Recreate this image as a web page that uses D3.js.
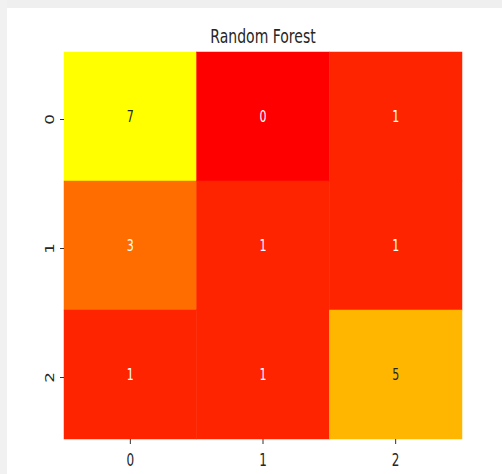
<!DOCTYPE html>
<html>
<head>
<meta charset="utf-8">
<script src="https://cdn.jsdelivr.net/npm/d3@7"></script>
<style>
  html, body { margin: 0; padding: 0; background: #fff; }
  text { font-family: "DejaVu Sans", sans-serif; }
</style>
</head>
<body>
<svg id="myGraph" width="502" height="474"></svg>
<script>
// data
var title = 'Random Forest';
var rowLabels = ['0', '1', '2'];
var colLabels = ['0', '1', '2'];
var matrix = [
  [7, 0, 1],
  [3, 1, 1],
  [1, 1, 5]
];

var svgWidth = 502;
var svgHeight = 474;
var plot = { left: 64, top: 52, right: 462, bottom: 439 };

var svg = d3.select('#myGraph');

// light gray frame at top / left
svg.append('rect').attr('x', 0).attr('y', 0).attr('width', svgWidth).attr('height', 8).attr('fill', '#efefef');
svg.append('rect').attr('x', 0).attr('y', 0).attr('width', 7).attr('height', svgHeight).attr('fill', '#f1f1f1');

var x = d3.scaleBand().domain(colLabels).range([plot.left, plot.right]);
var y = d3.scaleBand().domain(rowLabels).range([plot.top, plot.bottom]);

// autumn colormap
var color = d3.scaleLinear().domain([0, 7]).range(['#ff0000', '#ffff00']);

var cells = [];
matrix.forEach(function(row, i) {
  row.forEach(function(v, j) {
    cells.push({ r: rowLabels[i], c: colLabels[j], v: v });
  });
});

svg.selectAll('rect.cell')
  .data(cells)
  .enter()
  .append('rect')
  .attr('class', 'cell')
  .attr('x', function(d) { return x(d.c); })
  .attr('y', function(d) { return y(d.r); })
  .attr('width', x.bandwidth())
  .attr('height', y.bandwidth())
  .attr('fill', function(d) { return color(d.v); })
  .attr('stroke', function(d) { return color(d.v); })
  .attr('stroke-width', 0.5);

// text is stretched vertically in the reference
function stretched(sel, sx, sy) {
  return sel.attr('transform', function(d) {
    return 'translate(' + d.tx + ',' + d.ty + ') scale(' + sx + ',' + sy + ')';
  });
}

function isLight(v) {
  var c = d3.rgb(color(v));
  var lin = function(u) { u = u / 255; return u <= 0.03928 ? u / 12.92 : Math.pow((u + 0.055) / 1.055, 2.4); };
  return 0.2126 * lin(c.r) + 0.7152 * lin(c.g) + 0.0722 * lin(c.b) > 0.408;
}

// numbers in cells
stretched(svg.selectAll('text.num')
  .data(cells.map(function(d) {
    return { v: d.v, tx: x(d.c) + x.bandwidth() / 2, ty: y(d.r) + y.bandwidth() / 2 };
  }))
  .enter()
  .append('text')
  .attr('class', 'num')
  .attr('text-anchor', 'middle')
  .attr('dy', '0.35em')
  .attr('font-size', 11)
  .attr('fill', function(d) { return isLight(d.v) ? '#262626' : '#ffffff'; })
  .text(function(d) { return d.v; }), 1, 1.4);

// x axis ticks
svg.selectAll('line.xtick')
  .data(colLabels)
  .enter()
  .append('line')
  .attr('x1', function(d) { return x(d) + x.bandwidth() / 2; })
  .attr('x2', function(d) { return x(d) + x.bandwidth() / 2; })
  .attr('y1', plot.bottom)
  .attr('y2', plot.bottom + 5)
  .attr('stroke', '#333')
  .attr('stroke-width', 1);

stretched(svg.selectAll('text.xlab')
  .data(colLabels.map(function(d) { return { t: d, tx: x(d) + x.bandwidth() / 2, ty: plot.bottom + 21 }; }))
  .enter()
  .append('text')
  .attr('text-anchor', 'middle')
  .attr('dy', '0.35em')
  .attr('font-size', 12)
  .attr('fill', '#262626')
  .text(function(d) { return d.t; }), 1, 1.4);

// y axis ticks
svg.selectAll('line.ytick')
  .data(rowLabels)
  .enter()
  .append('line')
  .attr('x1', plot.left - 4)
  .attr('x2', plot.left)
  .attr('y1', function(d) { return y(d) + y.bandwidth() / 2 + 3; })
  .attr('y2', function(d) { return y(d) + y.bandwidth() / 2 + 3; })
  .attr('stroke', '#333')
  .attr('stroke-width', 1);

svg.selectAll('text.ylab')
  .data(rowLabels)
  .enter()
  .append('text')
  .attr('transform', function(d) {
    return 'translate(' + (plot.left - 14) + ',' + (y(d) + y.bandwidth() / 2 + 3) + ') rotate(-90) scale(1.4,1)';
  })
  .attr('text-anchor', 'middle')
  .attr('dy', '0.35em')
  .attr('font-size', 12)
  .attr('fill', '#262626')
  .text(function(d) { return d; });

// title
svg.append('text')
  .attr('transform', 'translate(' + (plot.left + plot.right) / 2 + ',43) scale(1,1.35)')
  .attr('text-anchor', 'middle')
  .attr('font-size', 14)
  .attr('fill', '#262626')
  .text(title);
</script>
</body>
</html>
